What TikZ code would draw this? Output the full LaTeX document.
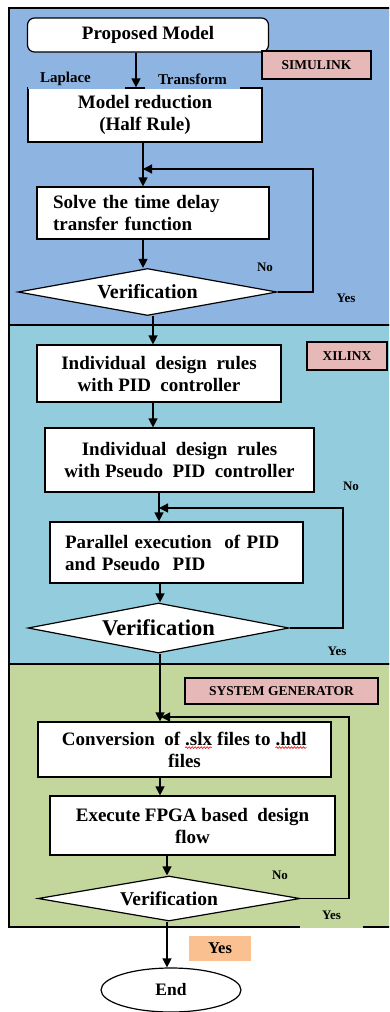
\documentclass[tikz,border=0pt]{standalone}
\usepackage{fontspec}
\setmainfont{Liberation Serif}
\usetikzlibrary{shapes.geometric,arrows.meta,decorations.pathmorphing}
\newcommand\redwave[1]{\tikz[baseline=(wv.base)]{\node[rectangle, draw=none, fill=none, rounded corners=0pt, minimum width=0pt, minimum height=0pt, inner sep=0pt, outer sep=0pt, text width=, align=flush left] (wv) {#1};\draw[red, line width=0.6pt, decorate, decoration={snake, amplitude=0.9pt, segment length=3pt}] ([yshift=-2.5pt]wv.base west) -- ([yshift=-2.5pt]wv.base east);}}
\definecolor{bluec}{RGB}{142,180,226}
\definecolor{cyanc}{RGB}{147,205,221}
\definecolor{greenc}{RGB}{195,214,155}
\definecolor{pinkc}{RGB}{230,185,184}
\definecolor{orangec}{RGB}{250,192,144}
\tikzset{
  panel/.style={draw=black, line width=1.3pt},
  box/.style={draw, fill=white, line width=1.2pt, inner sep=0pt, align=center,
    font=\bfseries\fontsize{19}{22}\selectfont},
  dec/.style={diamond, draw, fill=white, line width=1.2pt, inner sep=0pt, aspect=5.5,
    font=\bfseries\fontsize{20}{22}\selectfont},
  tag/.style={draw, fill=pinkc, line width=1.5pt, inner sep=0pt,
    font=\bfseries\fontsize{13.5}{15}\selectfont},
  lbl/.style={inner sep=0pt, font=\bfseries\fontsize{13}{15}\selectfont},
  cover/.style={inner ysep=0pt, font=\bfseries\fontsize{15}{17}\selectfont},
  ln/.style={line width=1.3pt},
  arr/.style={line width=1.3pt, -{Triangle[length=9pt,width=9pt]}}
}
\begin{document}
\begin{tikzpicture}[x=1pt,y=-1pt]
\useasboundingbox (0,0) rectangle (389,1012);
\clip (0,0) rectangle (389,1012);
% panels
\draw[panel, fill=bluec] (9,8) rectangle (400,325);
\draw[panel, fill=cyanc] (9,325) rectangle (400,664);
\draw[panel, fill=greenc] (9,664) rectangle (400,927);

% ---------- SIMULINK panel ----------
\node[box, rounded corners=7pt, minimum width=241pt, minimum height=34pt] (pm) at (148,35) {Proposed Model};
\node[tag, minimum width=109pt, minimum height=28pt] (sim) at (316.5,65) {SIMULINK};
\node[box, minimum width=234pt, minimum height=54pt] (mr) at (145,115) {Model reduction\\(Half Rule)};
\node[cover, fill=bluec, text width=73pt, inner xsep=12pt, minimum height=20pt, align=left] (lap) at (76.5,79) {Laplace};
\node[cover, fill=bluec, text width=70pt, inner xsep=12.5pt, minimum height=20pt, align=center] (tra) at (192.5,79) {Transform};
\node[box, minimum width=232pt, minimum height=52pt, text width=200pt, align=left] (solve) at (153,213) {Solve the time delay\\transfer function};
\node[dec, minimum width=259pt, minimum height=47pt] (d1) at (147.5,292) {Verification};
\node[lbl] (no1) at (265,267) {No};
\node[lbl] (yes1) at (346,298) {Yes};

% ---------- XILINX panel ----------
\node[tag, minimum width=80pt, minimum height=28pt] (xil) at (347,356) {XILINX};
\node[box, minimum width=244pt, minimum height=57pt] (pid1) at (159,373.5) {Individual\ \ design\ \ rules\\with PID\ \ controller};
\node[box, minimum width=269pt, minimum height=64pt] (pid2) at (179.5,460) {Individual\ \ design\ \ rules\\with Pseudo\ \ PID\ \ controller};
\node[box, minimum width=253pt, minimum height=61pt, text width=223pt, align=left] (par) at (176.5,552.5) {Parallel execution\ \ of PID\\and Pseudo\ \ PID};
\node[dec, minimum width=261pt, minimum height=50pt, font=\bfseries\fontsize{22.5}{24}\selectfont] (d2) at (158.5,628) {Verification};
\node[lbl] (no2) at (351,486) {No};
\node[lbl] (yes2) at (337,651) {Yes};

% ---------- SYSTEM GENERATOR panel ----------
\node[tag, minimum width=193pt, minimum height=26pt] (sg) at (281.5,691) {SYSTEM GENERATOR};
\node[box, minimum width=293pt, minimum height=55pt] (conv) at (184.5,749.5) {Conversion\ \ of \redwave{.slx} files to \redwave{.hdl}\\files};
\node[box, minimum width=285pt, minimum height=59pt] (fpga) at (192.5,825.5) {Execute FPGA based\ \ design\\flow};
\node[dec, minimum width=262pt, minimum height=45pt, font=\bfseries\fontsize{19.5}{22}\selectfont] (d3) at (169,898.5) {Verification};
\node[lbl] (no3) at (280,875) {No};
\node[lbl, fill=greenc, minimum width=63pt, minimum height=25.4pt] (yes3) at (331.5,915) {Yes};

% ---------- end ----------
\node[fill=orangec, inner sep=0pt, minimum width=62pt, minimum height=25pt, font=\bfseries\fontsize{16.5}{18}\selectfont] (yes4) at (220,948.5) {Yes};
\node[ellipse, draw, fill=white, line width=1.2pt, inner sep=0pt, minimum width=140pt, minimum height=44pt, font=\bfseries\fontsize{17.5}{19}\selectfont] (end) at (171,990) {End};

% ---------- connectors ----------
\coordinate (xa) at (136,0);
\coordinate (xb) at (143,0);
\coordinate (xc) at (153,0);
\coordinate (xd) at (159,0);
\coordinate (xe) at (160,0);
\coordinate (xf) at (167,0);
\draw[arr] (pm.south -| xa) -- (mr.north -| xa);
\draw[arr] (mr.south -| xb) -- (solve.north -| xb);
\draw[arr] (solve.south -| xb) -- (d1.north -| xb);
\draw[arr] (d1.south -| xc) -- (pid1.north -| xc);
\draw[arr] (pid1.south -| xc) -- (pid2.north -| xc);
\draw[arr] (pid2.south -| xd) -- (par.north -| xd);
\draw[arr] (par.south -| xe) -- (d2.north -| xe);
\draw[arr] (d2.south -| xe) -- (conv.north -| xe);
\draw[arr] (conv.south -| xe) -- (fpga.north -| xe);
\draw[arr] (fpga.south -| xf) -- (d3.north -| xf);
\draw[arr] (d3.south -| xf) -- (end.north -| xf);

% loops
\coordinate (l1) at (313,169);
\coordinate (j1) at (143,169);
\draw[arr] (d1.east) -| (l1) -- (j1);
\coordinate (l2) at (343,508);
\coordinate (j2) at (159,508);
\draw[arr] (d2.east) -| (l2) -- (j2);
\coordinate (l3) at (349,717);
\coordinate (j3) at (161,717);
\draw[arr] (d3.east) -| (l3) -- (j3);
\end{tikzpicture}
\end{document}
